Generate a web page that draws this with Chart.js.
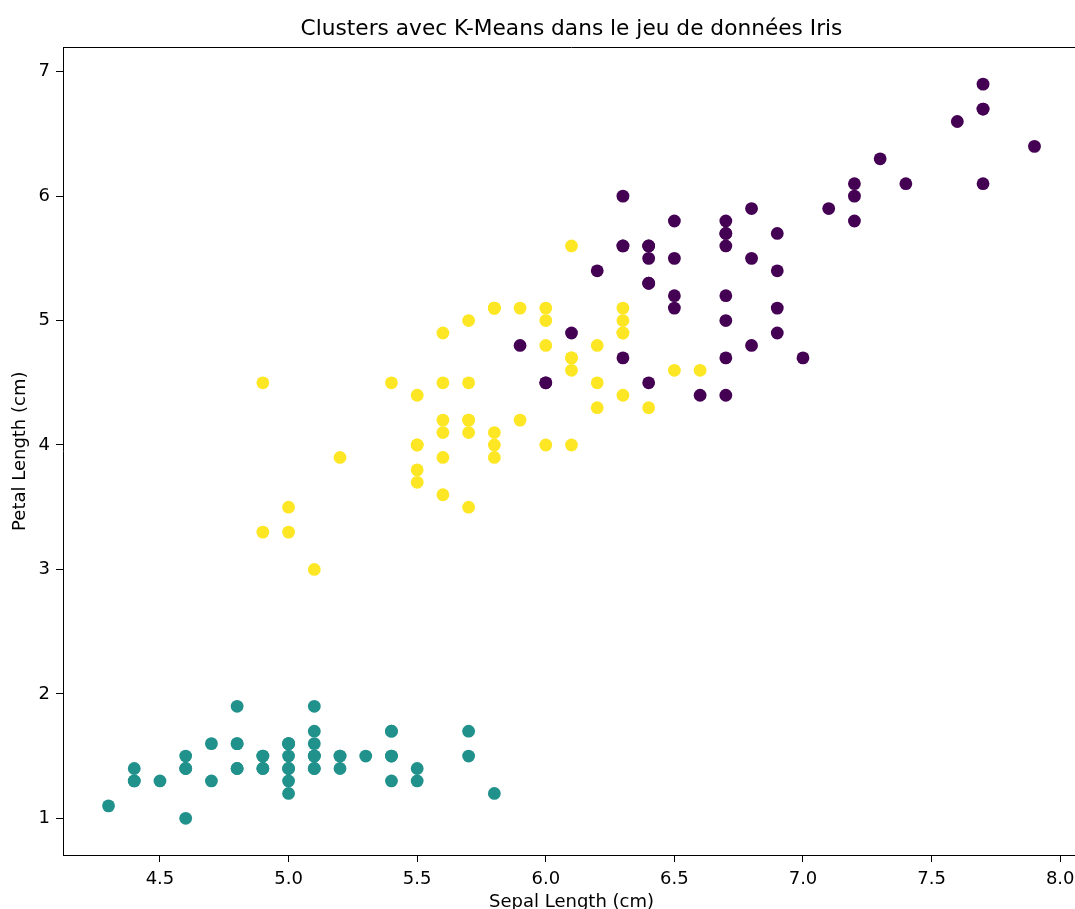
<!DOCTYPE html>
<html>
<head>
<meta charset="utf-8">
<script src="https://cdn.jsdelivr.net/npm/chart.js@4/dist/chart.umd.min.js"></script>
<style>
  html, body { margin: 0; padding: 0; background: #fff; overflow: hidden; width: 1075px; height: 909px; }
  #wrap { width: 1075px; height: 909px; overflow: hidden; position: relative; }
  canvas { display: block; }
</style>
</head>
<body>
<div id="wrap"><canvas id="c" width="1200" height="909" style="width:1200px;height:909px"></canvas></div>
<script>
// ---- Data (Sepal Length, Petal Length) by K-Means cluster ----
const cluster0Sepal = [7.0, 6.4, 6.9, 6.3, 6.7, 5.9, 6.6, 6.8, 6.7, 6.0, 6.0, 6.7,
  6.3, 7.1, 6.3, 6.5, 7.6, 7.3, 6.7, 7.2, 6.5, 6.4, 6.8, 6.4, 6.5, 7.7, 7.7, 6.9,
  7.7, 6.7, 7.2, 6.1, 6.4, 7.2, 7.4, 7.9, 6.4, 7.7, 6.3, 6.4, 6.9, 6.7, 6.9, 6.8,
  6.7, 6.7, 6.5, 6.2];
const cluster0Petal = [4.7, 4.5, 4.9, 4.7, 4.4, 4.8, 4.4, 4.8, 5.0, 4.5, 4.5, 4.7,
  6.0, 5.9, 5.6, 5.8, 6.6, 6.3, 5.8, 6.1, 5.1, 5.3, 5.5, 5.3, 5.5, 6.7, 6.9, 5.7,
  6.7, 5.7, 6.0, 4.9, 5.6, 5.8, 6.1, 6.4, 5.6, 6.1, 5.6, 5.5, 5.4, 5.6, 5.1, 5.9,
  5.7, 5.2, 5.2, 5.4];

const cluster1Sepal = [5.1, 4.9, 4.7, 4.6, 5.0, 5.4, 4.6, 5.0, 4.4, 4.9, 5.4, 4.8,
  4.8, 4.3, 5.8, 5.7, 5.4, 5.1, 5.7, 5.1, 5.4, 5.1, 4.6, 5.1, 4.8, 5.0, 5.0, 5.2,
  5.2, 4.7, 4.8, 5.4, 5.2, 5.5, 4.9, 5.0, 5.5, 4.9, 4.4, 5.1, 5.0, 4.5, 4.4, 5.0,
  5.1, 4.8, 5.1, 4.6, 5.3, 5.0];
const cluster1Petal = [1.4, 1.4, 1.3, 1.5, 1.4, 1.7, 1.4, 1.5, 1.4, 1.5, 1.5, 1.6,
  1.4, 1.1, 1.2, 1.5, 1.3, 1.4, 1.7, 1.5, 1.7, 1.5, 1.0, 1.7, 1.9, 1.6, 1.6, 1.5,
  1.4, 1.6, 1.6, 1.5, 1.5, 1.4, 1.5, 1.2, 1.3, 1.4, 1.3, 1.5, 1.3, 1.3, 1.3, 1.6,
  1.9, 1.4, 1.6, 1.4, 1.5, 1.4];

const cluster2Sepal = [5.5, 6.5, 5.7, 4.9, 6.6, 5.2, 5.0, 5.9, 6.0, 6.1, 5.6, 5.6,
  5.8, 6.2, 5.6, 6.1, 6.3, 6.1, 6.4, 5.7, 5.5, 5.5, 5.8, 6.0, 5.4, 6.3, 5.6, 5.5,
  5.5, 6.1, 5.8, 5.0, 5.6, 5.7, 5.7, 6.2, 5.1, 5.7,
  5.8, 4.9, 5.7, 5.8, 6.0, 5.6, 6.3, 6.2, 6.3, 6.1, 6.0, 5.8, 6.3, 5.9];
const cluster2Petal = [4.0, 4.6, 4.5, 3.3, 4.6, 3.9, 3.5, 4.2, 4.0, 4.7, 3.6, 4.5,
  4.1, 4.5, 3.9, 4.0, 4.9, 4.7, 4.3, 3.5, 3.8, 3.7, 3.9, 5.1, 4.5, 4.4, 4.1, 4.0,
  4.4, 4.6, 4.0, 3.3, 4.2, 4.2, 4.2, 4.3, 3.0, 4.1,
  5.1, 4.5, 5.0, 5.1, 5.0, 4.9, 4.9, 4.8, 5.1, 5.6, 4.8, 5.1, 5.0, 5.1];

const clusterColors = ['#440154', '#21918c', '#fde725'];
const xTickValues = [4.5, 5.0, 5.5, 6.0, 6.5, 7.0, 7.5, 8.0];
const yTickValues = [1, 2, 3, 4, 5, 6, 7];
const xRange = [4.123, 8.077];
const yRange = [0.705, 7.195];

const titleText = 'Clusters avec K-Means dans le jeu de données Iris';
const xLabel = 'Sepal Length (cm)';
const yLabel = 'Petal Length (cm)';

const toPoints = (xs, ys) => xs.map((x, i) => ({ x: x, y: ys[i] }));

Chart.defaults.font.family = "'DejaVu Sans', sans-serif";
Chart.defaults.color = '#000';

const frame = {
  id: 'frame',
  afterDraw(chart) {
    const { ctx, chartArea: a } = chart;
    ctx.save();
    ctx.strokeStyle = '#000';
    ctx.lineWidth = 1;
    ctx.beginPath();
    ctx.moveTo(a.left, Math.round(a.top) + 0.5);
    ctx.lineTo(a.right, Math.round(a.top) + 0.5);
    ctx.stroke();
    ctx.restore();
  }
};

const ds = (xs, ys, color) => ({
  data: toPoints(xs, ys),
  backgroundColor: color,
  borderColor: color,
  borderWidth: 0,
  pointRadius: 6.4,
  pointHoverRadius: 6.4
});

new Chart(document.getElementById('c'), {
  type: 'scatter',
  data: {
    datasets: [
      ds(cluster0Sepal, cluster0Petal, clusterColors[0]),
      ds(cluster1Sepal, cluster1Petal, clusterColors[1]),
      ds(cluster2Sepal, cluster2Petal, clusterColors[2])
    ]
  },
  plugins: [frame],
  options: {
    responsive: false,
    devicePixelRatio: 1,
    animation: false,
    layout: { padding: { left: 0, right: 120, top: 0, bottom: 0 } },
    plugins: {
      legend: { display: false },
      tooltip: { enabled: false },
      title: {
        display: true,
        text: titleText,
        fullSize: false,
        color: '#000',
        font: { size: 21.7, weight: 'normal', lineHeight: 1.2 },
        padding: { top: 16.5, bottom: 4.9 }
      }
    },
    scales: {
      x: {
        type: 'linear',
        position: 'bottom',
        min: xRange[0],
        max: xRange[1],
        afterBuildTicks: (s) => { s.ticks = xTickValues.map(v => ({ value: v })); },
        afterFit: (s) => { s.height = 54; },
        ticks: {
          autoSkip: false,
          maxRotation: 0,
          padding: 7,
          color: '#000',
          font: { size: 18 },
          callback: (v) => Number(v).toFixed(1)
        },
        grid: {
          display: true,
          drawOnChartArea: false,
          drawTicks: true,
          tickLength: 7,
          tickColor: '#000',
          tickWidth: 1
        },
        border: { display: true, color: '#000', width: 1 },
        title: {
          display: true,
          text: xLabel,
          color: '#000',
          font: { size: 18, lineHeight: 1 },
          padding: { top: 0, bottom: -2.5 }
        }
      },
      y: {
        type: 'linear',
        position: 'left',
        min: yRange[0],
        max: yRange[1],
        afterBuildTicks: (s) => { s.ticks = yTickValues.map(v => ({ value: v })); },
        afterFit: (s) => { s.width = 63; },
        ticks: {
          autoSkip: false,
          padding: 6,
          color: '#000',
          font: { size: 18 },
          callback: (v) => String(v)
        },
        grid: {
          display: true,
          drawOnChartArea: false,
          drawTicks: true,
          tickLength: 7,
          tickColor: '#000',
          tickWidth: 1
        },
        border: { display: true, color: '#000', width: 1 },
        title: {
          display: true,
          text: yLabel,
          color: '#000',
          font: { size: 18, lineHeight: 1 },
          padding: { top: 11, bottom: 0 }
        }
      }
    }
  }
});
</script>
</body>
</html>
